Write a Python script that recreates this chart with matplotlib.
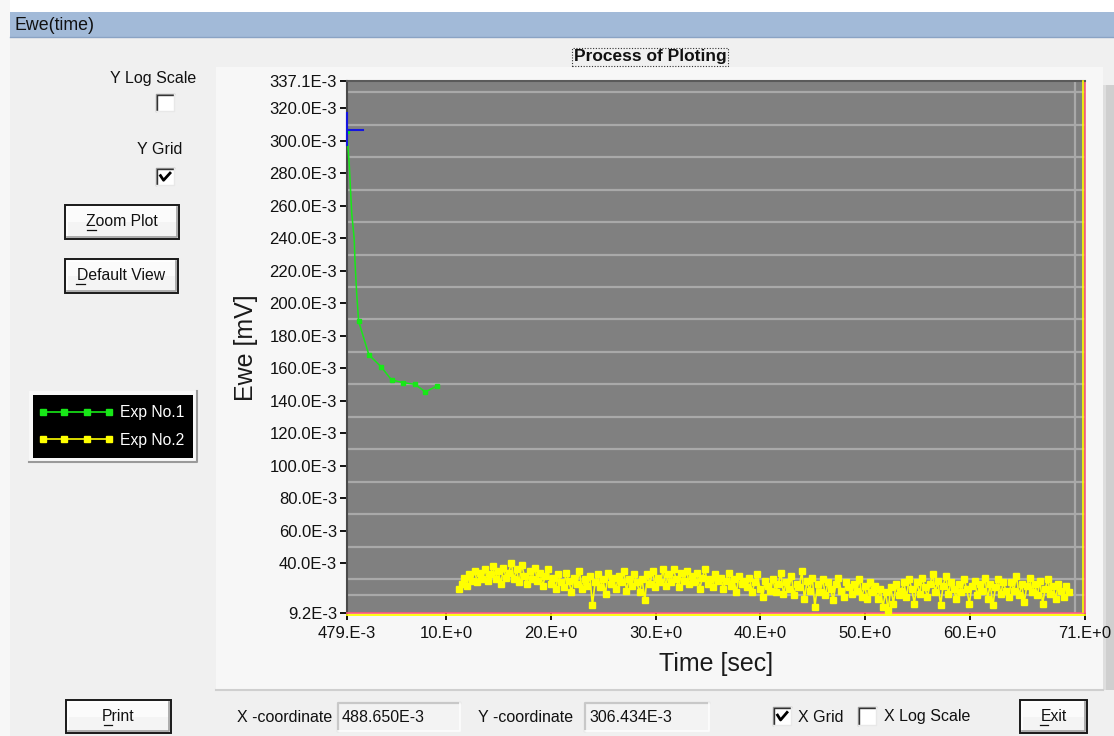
import matplotlib
matplotlib.use('Agg')
import matplotlib.pyplot as plt
from matplotlib.patches import Rectangle
from matplotlib.lines import Line2D

plt.rcParams['font.family'] = ['Liberation Sans', 'DejaVu Sans']

# ---------------- data ----------------
# Exp No.1 (time in s, Ewe in V)
exp1_time = [0.489, 0.73, 0.955, 1.2, 1.27, 1.43, 1.62, 2.6, 3.75, 4.76, 5.87, 6.98, 8.0, 9.11]
exp1_ewe = [0.3064, 0.2845, 0.2558, 0.2393, 0.2259, 0.2063, 0.1888, 0.1682, 0.1610,
            0.1528, 0.1511, 0.1501, 0.1454, 0.1491]
exp1_marked = [0, 6, 7, 8, 9, 10, 11, 12, 13]

# Exp No.2 (uniform sampling: start time, step in s; Ewe in E-3 V)
exp2_t0 = 11.2
exp2_dt = 0.25
exp2_ewe_milli = [
    24, 27, 31, 26, 33, 29, 35, 28, 34, 30,
    36, 29, 33, 38, 30, 35, 27, 37, 31, 34,
    40, 30, 36, 28, 39, 32, 27, 35, 30, 37,
    29, 34, 26, 32, 36, 27, 31, 24, 33, 28,
    25, 34, 29, 22, 31, 27, 35, 24, 30, 26,
    32, 14, 28, 33, 25, 30, 21, 34, 27, 31,
    24, 32, 28, 35, 23, 30, 26, 33, 28, 22,
    30, 17, 33, 27, 35, 25, 31, 28, 36, 26,
    33, 28, 36, 30, 25, 34, 29, 35, 27, 32,
    28, 34, 24, 31, 36, 27, 30, 25, 33, 29,
    31, 24, 29, 34, 26, 30, 22, 32, 27, 29,
    25, 31, 22, 28, 33, 24, 19, 29, 26, 23,
    30, 22, 27, 34, 21, 28, 24, 32, 20, 27,
    25, 35, 18, 29, 23, 31, 13, 27, 22, 30,
    20, 28, 24, 17, 27, 31, 23, 19, 28, 25,
    21, 27, 23, 30, 19, 26, 18, 28, 22, 26,
    18, 24, 13, 22, 11, 25, 15, 27, 20, 23,
    28, 19, 30, 24, 15, 28, 21, 31, 25, 19,
    27, 33, 22, 29, 14, 26, 32, 21, 28, 24,
    18, 27, 22, 30, 24, 15, 26, 29, 20, 27,
    23, 31, 18, 27, 14, 25, 30, 21, 28, 23,
    19, 28, 23, 32, 20, 27, 16, 26, 31, 22,
    27, 20, 29, 15, 24, 30, 21, 26, 18, 27,
    23, 19, 26, 22,
]

cursor_x = 0.488650
cursor_y = 0.306434

x_ticks = [0.479, 10, 20, 30, 40, 50, 60, 71]
x_tick_labels = ['479.E-3', '10.E+0', '20.E+0', '30.E+0', '40.E+0', '50.E+0', '60.E+0', '71.E+0']
y_ticks = [0.0092, 0.04, 0.06, 0.08, 0.10, 0.12, 0.14, 0.16, 0.18, 0.20, 0.22, 0.24,
           0.26, 0.28, 0.30, 0.32, 0.3371]
y_tick_labels = ['9.2E-3', '40.0E-3', '60.0E-3', '80.0E-3', '100.0E-3', '120.0E-3',
                 '140.0E-3', '160.0E-3', '180.0E-3', '200.0E-3', '220.0E-3', '240.0E-3',
                 '260.0E-3', '280.0E-3', '300.0E-3', '320.0E-3', '337.1E-3']
x_grid = [10, 20, 30, 40, 50, 60, 70]
y_grid = [v / 1000 for v in range(20, 331, 10)]

# ---------------- figure helpers ----------------
W, H = 1114, 736
fig = plt.figure(figsize=(W / 100, H / 100), dpi=100)
fig.patch.set_facecolor('#f0f0f0')


def fx(x):
    return x / W


def fy(y):
    return 1 - y / H


def rect(x0, y0, x1, y1, **kw):
    r = Rectangle((fx(x0), fy(y1)), fx(x1) - fx(x0), fy(y0) - fy(y1),
                  transform=fig.transFigure, **kw)
    fig.add_artist(r)
    return r


def line(xs, ys, **kw):
    l = Line2D([fx(x) for x in xs], [fy(y) for y in ys], transform=fig.transFigure, **kw)
    fig.add_artist(l)
    return l


def text(x, y, s, **kw):
    kw.setdefault('ha', 'left')
    kw.setdefault('va', 'center')
    kw.setdefault('color', '#111111')
    return fig.text(fx(x), fy(y), s, **kw)


def checkbox(x0, y0, x1, y1, checked):
    rect(x0, y0, x1, y1, fc='white', ec='none', zorder=2)
    line([x0, x0, x1], [y1, y0, y0], color='#9a9a9a', lw=1.0, zorder=3)
    line([x0 + 1.3, x0 + 1.3, x1 - 1], [y1 - 1, y0 + 1.3, y0 + 1.3], color='#333333', lw=1.0, zorder=3)
    line([x0, x1, x1], [y1, y1, y0], color='#e8e8e8', lw=1.0, zorder=3)
    if checked:
        w = x1 - x0
        h = y1 - y0
        line([x0 + 0.25 * w, x0 + 0.42 * w, x0 + 0.78 * w],
             [y0 + 0.45 * h, y0 + 0.72 * h, y0 + 0.3 * h], color='black', lw=2.0, zorder=4)


def button(x0, y0, x1, y1, label, ul=None):
    rect(x0, y0, x1, y1, fc='#f4f4f4', ec='none', zorder=2)
    rect(x0 + 2, y0 + 2, x1 - 2, (y0 + y1) / 2, fc='#fbfbfb', ec='none', zorder=2)
    line([x0 + 2, x0 + 2, x1 - 2], [y1 - 2, y0 + 2, y0 + 2], color='white', lw=1.2, zorder=3)
    line([x0 + 2, x1 - 2, x1 - 2], [y1 - 2, y1 - 2, y0 + 2], color='#a0a0a0', lw=1.2, zorder=3)
    rect(x0, y0, x1, y1, fc='none', ec='#1a1a1a', lw=1.4, zorder=4)
    cx = (x0 + x1) / 2
    cy = (y0 + y1) / 2
    text(cx, cy, label, ha='center', fontsize=11.3, zorder=5)
    if ul is not None:
        line([ul[0], ul[1]], [cy + 8, cy + 8], color='#111111', lw=0.9, zorder=5)


def textbox(x0, y0, x1, y1, s):
    rect(x0, y0, x1, y1, fc='#f3f3f3', ec='none', zorder=2)
    line([x0, x0, x1], [y1, y0, y0], color='#c8c8c8', lw=1.6, zorder=3)
    line([x0, x1, x1], [y1, y1, y0], color='#fdfdfd', lw=1.2, zorder=3)
    text(x0 + 4, (y0 + y1) / 2, s, fontsize=11.5, zorder=4)


# ---------------- window chrome ----------------
rect(0, 0, W, 12, fc='white', ec='none', zorder=1)
rect(0, 0, 10, H, fc='#f7f7f7', ec='none', zorder=1)
rect(10, 12, W, 37, fc='#a2bad8', ec='none', zorder=1)
line([10, W], [37, 37], color='#8aa3c4', lw=1.0, zorder=2)
text(14, 25, 'Ewe(time)', fontsize=12.8, color='#111111', zorder=3)

# chart panel
rect(216, 67, 1103, 690, fc='#f7f7f7', ec='none', zorder=1)
line([216, 1103], [690, 690], color='#cfcfcf', lw=1.5, zorder=2)
rect(1103, 85, W, 690, fc='#dedede', ec='none', zorder=1)
rect(1106, 85, W, 690, fc='#cfcfcf', ec='none', zorder=1)

# title
text(650, 57, 'Process of Ploting', ha='center', fontsize=12.5, fontweight='bold', zorder=3,
     bbox=dict(boxstyle='square,pad=0.1', fc='none', ec='#333333', ls=(0, (1, 1.5)), lw=0.8))

# ---------------- plot ----------------
ax = fig.add_axes([fx(346.7), fy(613), fx(1085) - fx(346.7), fy(80.7) - fy(613)])
ax.set_zorder(10)
ax.set_facecolor('#808080')
ax.set_xlim(x_ticks[0], x_ticks[-1])
ax.set_ylim(y_ticks[0], y_ticks[-1])

ax.set_xticks(x_grid, minor=True)
ax.set_yticks(y_grid, minor=True)
ax.grid(False)
ax.xaxis.grid(True, which='minor', color='#a9a9a9', lw=1.6)
ax.yaxis.grid(True, which='minor', color='#a9a9a9', lw=1.6)
ax.set_axisbelow(True)
ax.tick_params(which='minor', length=0)

ax.set_xticks(x_ticks)
ax.set_xticklabels(x_tick_labels)
ax.set_yticks(y_ticks)
ax.set_yticklabels(y_tick_labels)
ax.tick_params(which='major', direction='out', length=5, width=1.4, color='#111111',
               labelsize=12, labelcolor='#111111')
ax.tick_params(axis='x', which='major', pad=4)
ax.tick_params(axis='y', which='major', pad=2)

ax.spines['left'].set_color('#4a4a4a')
ax.spines['left'].set_linewidth(1.5)
ax.spines['top'].set_color('#5a5a5a')
ax.spines['top'].set_linewidth(1.5)
ax.spines['bottom'].set_color('#ff5a7a')
ax.spines['bottom'].set_linewidth(1.2)
ax.spines['right'].set_color('#ff5a7a')
ax.spines['right'].set_linewidth(1.2)

exp2_time = [exp2_t0 + i * exp2_dt for i in range(len(exp2_ewe_milli))]
exp2_ewe = [v / 1000 for v in exp2_ewe_milli]

ax.plot(exp1_time, exp1_ewe, color='#18e818', lw=1.1, marker='s', ms=3.4,
        markevery=exp1_marked, zorder=4)
ax.plot(exp2_time, exp2_ewe, color='#ffff00', lw=1.2, marker='s', ms=4.0, zorder=4)

# cursor
ax.plot([cursor_x, cursor_x], [cursor_y - 0.009, cursor_y + 0.0105], color='#1515e0', lw=1.5,
        zorder=5, clip_on=False)
ax.plot([x_ticks[0], cursor_x + 1.5], [cursor_y, cursor_y], color='#1515e0', lw=1.5, zorder=5)

# extra yellow cursor lines at bottom / right edges
line([346.7, 1085], [614.6, 614.6], color='#ffff00', lw=1.3, zorder=20)
line([1083.3, 1083.3], [80.7, 612], color='#ffff00', lw=1.2, zorder=20)

# axis labels
text(246, 348, 'Ewe [mV]', ha='center', fontsize=18, rotation=90, color='#1a1a1a', zorder=3)
text(716, 664, 'Time [sec]', ha='center', fontsize=18, color='#1a1a1a', zorder=3)

# ---------------- left controls ----------------
text(196, 78, 'Y Log Scale', ha='right', fontsize=11.5, zorder=3)
checkbox(156, 94, 174, 111, False)
text(182, 150, 'Y Grid', ha='right', fontsize=11.5, zorder=3)
checkbox(156, 168, 174, 185, True)
button(65, 205, 179, 239, 'Zoom Plot', ul=(87, 96))
button(65, 259, 178, 293, 'Default View', ul=(76, 85))

# legend box
rect(29, 391, 197, 462, fc='#f8f8f8', ec='none', zorder=2)
line([29, 197, 197], [462, 462, 391], color='#9a9a9a', lw=1.5, zorder=3)
rect(33, 395, 193, 458, fc='black', ec='none', zorder=3)
leg_marker_x = [42.7, 64.3, 86.7, 109]
line(leg_marker_x, [412] * 4, color='#18e818', lw=1.2, marker='s', ms=4, zorder=4)
line(leg_marker_x, [438.5] * 4, color='#ffff00', lw=1.2, marker='s', ms=4, zorder=4)
text(120, 413, 'Exp No.1', fontsize=11.3, color='white', zorder=4)
text(120, 440, 'Exp No.2', fontsize=11.3, color='white', zorder=4)

# ---------------- bottom row ----------------
button(66, 700, 171, 733, 'Print', ul=(104, 112))
text(237, 717, 'X -coordinate', fontsize=11.5, zorder=3)
textbox(338, 703, 460, 731, '488.650E-3')
text(478, 717, 'Y -coordinate', fontsize=11.5, zorder=3)
textbox(585, 703, 709, 731, '306.434E-3')
checkbox(773, 707, 791, 725, True)
text(798, 717, 'X Grid', fontsize=11.5, zorder=3)
checkbox(858, 707, 876, 725, False)
text(884, 716, 'X Log Scale', fontsize=11.5, zorder=3)
button(1020, 700, 1087, 733, 'Exit', ul=(1040, 1048))

fig.savefig('out.png', dpi=100, facecolor=fig.get_facecolor())
